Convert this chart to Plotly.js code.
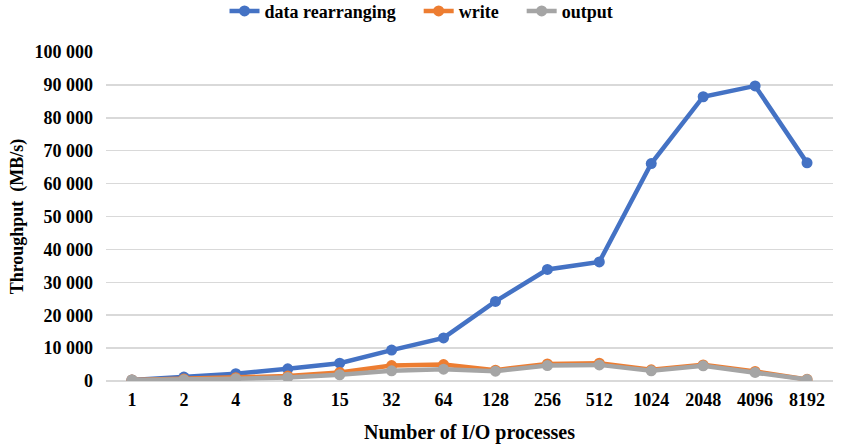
<!DOCTYPE html>
<html><head><meta charset="utf-8">
<script src="https://cdn.plot.ly/plotly-3.0.1.min.js"></script>
<style>html,body{margin:0;padding:0;background:#fff}#c{width:844px;height:448px}</style>
</head><body><div id="c"></div>
<script>
const categories = ['1','2','4','8','15','32','64','128','256','512','1024','2048','4096','8192'];
const dataRearranging = [300, 1200, 2200, 3700, 5400, 9400, 13100, 24200, 33900, 36200, 66100, 86400, 89700, 66300];
const writeVals = [300, 600, 1000, 1500, 2600, 4700, 5000, 3300, 5200, 5400, 3400, 4900, 2900, 500];
const outputVals = [300, 400, 700, 1100, 1900, 3100, 3600, 3000, 4700, 4900, 3100, 4600, 2600, 450];
const seriesNames = ['data rearranging', 'write', 'output'];
const colors = ['#4472C4', '#ED7D31', '#A5A5A5'];
const tickVals = [0,10000,20000,30000,40000,50000,60000,70000,80000,90000,100000];

const pad = '\u00a0\u00a0\u00a0\u00a0';
const traces = [dataRearranging, writeVals, outputVals].map((v, i) => ({
  x: categories, y: v, name: seriesNames[i] + (i < 2 ? pad : ''), type: 'scatter', mode: 'lines+markers',
  line: {color: colors[i], width: 4.5}, marker: {color: colors[i], size: 11}
}));

const FONT = '"Times New Roman", "Liberation Serif", Times, serif';
const layout = {
  width: 844, height: 448,
  margin: {l: 106, r: 11, t: 52, b: 67, autoexpand: false},
  paper_bgcolor: '#fff', plot_bgcolor: '#fff',
  separators: '. ',
  font: {family: FONT, color: '#000', size: 18},
  showlegend: true,
  legend: {orientation: 'h', x: 0.434, xanchor: 'center', y: 1.18, yanchor: 'top',
    font: {size: 18, family: FONT, weight: 'bold', color: '#000'}, tracegroupgap: 0},
  xaxis: {type: 'category', range: [-0.5, 13.5], showgrid: false, zeroline: false,
    showline: false, ticks: '', ticklabelstandoff: 6, tickfont: {size: 18, family: FONT, weight: 'bold', color: '#000'},
    title: {text: 'Number of I/O processes', font: {size: 20, family: FONT, weight: 'bold', color: '#000'}, standoff: 15}},
  yaxis: {range: [0, 100000], tickvals: tickVals, tickformat: ',d', showgrid: true,
    gridcolor: '#D9D9D9', gridwidth: 1.5, zeroline: true, zerolinecolor: '#D9D9D9', zerolinewidth: 1.5,
    showline: false, ticks: '', ticklabelstandoff: 12, tickfont: {size: 18, family: FONT, weight: 'bold', color: '#000'},
    title: {text: 'Throughput\u00a0\u00a0(MB/s)', font: {size: 18, family: FONT, weight: 'bold', color: '#000'}, standoff: 6}}
};
Plotly.newPlot('c', traces, layout, {displayModeBar: false, staticPlot: true});
</script></body></html>
